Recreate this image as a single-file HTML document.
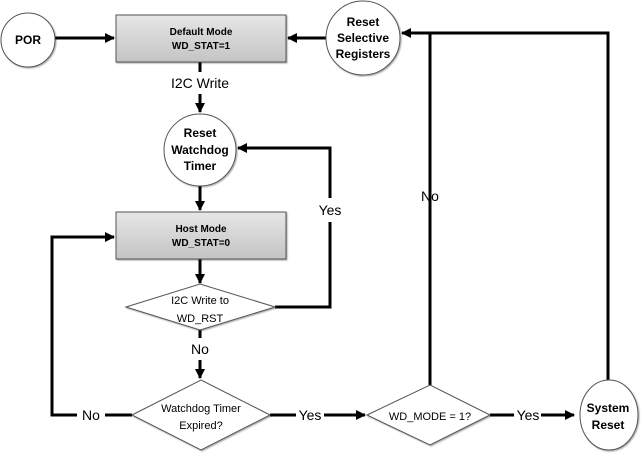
<!DOCTYPE html>
<html><head><style>body{margin:0;background:#fff}</style></head><body>
<svg width="641" height="454" viewBox="0 0 641 454" xmlns="http://www.w3.org/2000/svg" font-family="Liberation Sans, sans-serif">
<defs>
<linearGradient id="g" x1="0" y1="0" x2="0" y2="1"><stop offset="0" stop-color="#e6e6e6"/><stop offset="1" stop-color="#c4c4c4"/></linearGradient>
<marker id="a" markerWidth="10" markerHeight="10" refX="9" refY="5" orient="auto" markerUnits="userSpaceOnUse"><path d="M0,0 L10,5 L0,10 z" fill="#000"/></marker>
<filter id="s"><feDropShadow dx="1" dy="1" stdDeviation="0.8" flood-opacity="0.35"/></filter>
</defs>
<g stroke="#000" stroke-width="3" fill="none">
<line x1="55" y1="38" x2="114" y2="38" marker-end="url(#a)"/>
<line x1="326" y1="38" x2="288" y2="38" marker-end="url(#a)"/>
<polyline points="608,385 608,33 402,33" marker-end="url(#a)"/>
<line x1="430" y1="385" x2="430" y2="33"/>
<line x1="200" y1="62" x2="200" y2="72"/>
<line x1="200" y1="94" x2="200" y2="112" marker-end="url(#a)"/>
<line x1="200" y1="186" x2="200" y2="210" marker-end="url(#a)"/>
<line x1="200" y1="259" x2="200" y2="283" marker-end="url(#a)"/>
<polyline points="275,307 330,307 330,222"/>
<polyline points="330,198 330,148 238,148" marker-end="url(#a)"/>
<line x1="200" y1="330" x2="200" y2="338"/>
<line x1="200" y1="360" x2="200" y2="378" marker-end="url(#a)"/>
<polyline points="132,415 105,415"/>
<polyline points="77,415 52,415 52,237 114,237" marker-end="url(#a)"/>
<line x1="270" y1="415" x2="296" y2="415"/>
<line x1="324" y1="415" x2="365" y2="415" marker-end="url(#a)"/>
<line x1="490" y1="415" x2="514" y2="415"/>
<line x1="541" y1="415" x2="574" y2="415" marker-end="url(#a)"/>
</g>
<g stroke="#555" stroke-width="1" filter="url(#s)">
<circle cx="28" cy="40" r="27" fill="#fff"/>
<rect x="116" y="15" width="170" height="47" fill="url(#g)"/>
<circle cx="363" cy="38" r="37" fill="#fff"/>
<circle cx="200" cy="150" r="36" fill="#fff"/>
<rect x="116" y="212" width="170" height="47" fill="url(#g)"/>
<polygon points="126,307 200,284 275,307 200,330" fill="#fff"/>
<polygon points="132,415 201,380 270,415 201,450" fill="#fff"/>
<polygon points="367,415 430,385 490,415 430,445" fill="#fff"/>
<ellipse cx="609" cy="415" rx="29" ry="35" fill="#fff"/>
</g>
<g text-anchor="middle" font-size="12" fill="#000">
<text x="28" y="44" font-weight="bold">POR</text>
<text x="201" y="35" font-size="10" font-weight="bold">Default Mode</text>
<text x="201" y="49" font-size="10" font-weight="bold">WD_STAT=1</text>
<text x="363" y="26" font-weight="bold">Reset</text>
<text x="363" y="42" font-weight="bold">Selective</text>
<text x="363" y="58" font-weight="bold">Registers</text>
<text x="200" y="88" font-size="14">I2C Write</text>
<text x="200" y="137" font-weight="bold">Reset</text>
<text x="200" y="154" font-weight="bold">Watchdog</text>
<text x="200" y="170" font-weight="bold">Timer</text>
<text x="201" y="232" font-size="10" font-weight="bold">Host Mode</text>
<text x="201" y="246" font-size="10" font-weight="bold">WD_STAT=0</text>
<text x="200" y="304" font-size="11">I2C Write to</text>
<text x="200" y="322" font-size="11">WD_RST</text>
<text x="200" y="354" font-size="14">No</text>
<text x="330" y="215" font-size="14">Yes</text>
<text x="430" y="201" font-size="14">No</text>
<text x="201" y="412" font-size="11">Watchdog Timer</text>
<text x="201" y="429" font-size="11">Expired?</text>
<text x="91" y="420" font-size="14">No</text>
<text x="310" y="420" font-size="14">Yes</text>
<text x="430" y="420" font-size="11">WD_MODE = 1?</text>
<text x="528" y="420" font-size="14">Yes</text>
<text x="608" y="412" font-weight="bold">System</text>
<text x="608" y="429" font-weight="bold">Reset</text>
</g>
</svg>
</body></html>
